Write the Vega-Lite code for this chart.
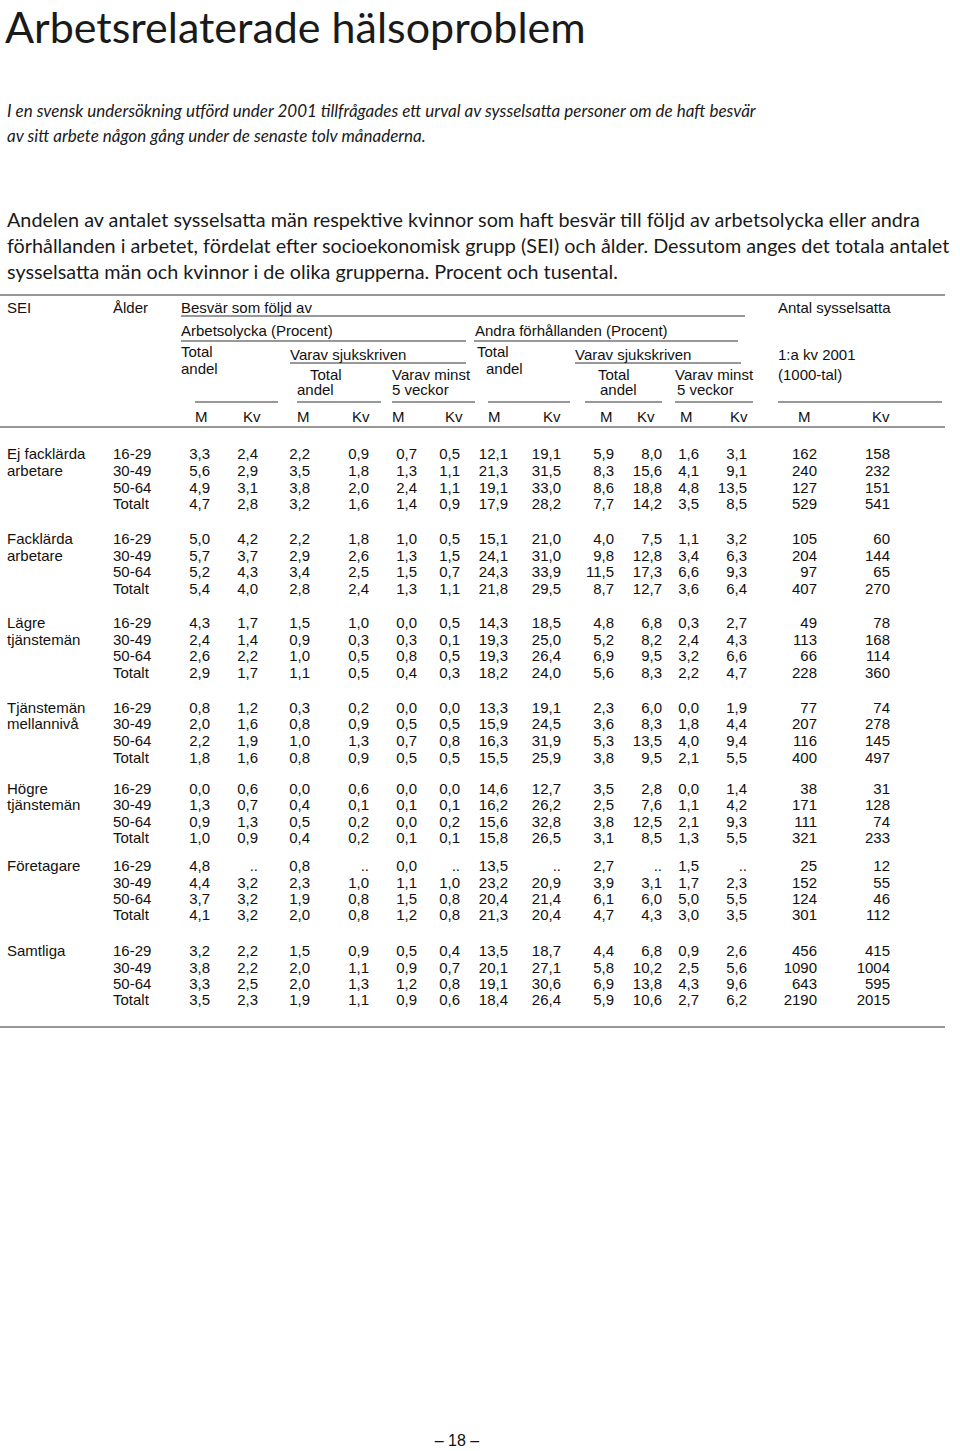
{
  "$schema": "https://vega.github.io/schema/vega-lite/v6.json",
  "width": 960,
  "height": 1451,
  "autosize": "none",
  "padding": 0,
  "background": "#ffffff",
  "config": {
    "view": {"stroke": null},
    "locale": {"number": {"decimal": ",", "thousands": " ", "grouping": [3], "currency": ["", " kr"]}}
  },
  "datasets": {
    "xs": [
      {"c":"L","xi":0},{"c":"R","xi":1},{"c":"tx","xi":2},{"c":"sei","xi":3},{"c":"age","xi":4},
      {"c":"hA","xi":5},{"c":"hAs","xi":6},{"c":"hAsT","xi":7},{"c":"hAsA","xi":8},{"c":"hA5","xi":9},
      {"c":"hO","xi":10},{"c":"hOT","xi":11},{"c":"hOA","xi":12},{"c":"hOs","xi":13},{"c":"hOsT","xi":14},
      {"c":"hOsA","xi":15},{"c":"hO5","xi":16},{"c":"hO5b","xi":17},{"c":"hN","xi":18},
      {"c":"m1","xi":19},{"c":"k1","xi":20},{"c":"m2","xi":21},{"c":"k2","xi":22},{"c":"m3","xi":23},
      {"c":"k3","xi":24},{"c":"m4","xi":25},{"c":"k4","xi":26},{"c":"m5","xi":27},{"c":"k5","xi":28},
      {"c":"m6","xi":29},{"c":"k6","xi":30},{"c":"m7","xi":31},{"c":"k7","xi":32},
      {"c":"aM","xi":33},{"c":"aKv","xi":34},{"c":"asM","xi":35},{"c":"asKv","xi":36},{"c":"a5M","xi":37},
      {"c":"a5Kv","xi":38},{"c":"oM","xi":39},{"c":"oKv","xi":40},{"c":"osM","xi":41},{"c":"osKv","xi":42},
      {"c":"o5M","xi":43},{"c":"o5Kv","xi":44},{"c":"nM","xi":45},{"c":"nKv","xi":46},
      {"c":"bEnd","xi":47},{"c":"aEnd","xi":48},{"c":"oS","xi":49},{"c":"oE","xi":50},{"c":"osE","xi":51},
      {"c":"s1b","xi":52},{"c":"s2b","xi":53},{"c":"s4b","xi":54},{"c":"s5a","xi":55},{"c":"s6b","xi":56},
      {"c":"s7b","xi":57},{"c":"pg","xi":58}
    ],
    "ys": [
      {"r":"T","yi":0},{"r":"S1","yi":1},{"r":"S2","yi":2},{"r":"P1","yi":3},{"r":"P2","yi":4},{"r":"P3","yi":5},
      {"r":"R0","yi":6},{"r":"H1","yi":7},{"r":"R1","yi":8},{"r":"H2","yi":9},{"r":"R2","yi":10},
      {"r":"H3","yi":11},{"r":"H3b","yi":12},{"r":"R3","yi":13},{"r":"H4","yi":14},{"r":"H5","yi":15},
      {"r":"H6","yi":16},{"r":"R4","yi":17},{"r":"H7","yi":18},{"r":"R5","yi":19},
      {"r":"g1a","yi":20},{"r":"g1b","yi":21},{"r":"g1c","yi":22},{"r":"g1d","yi":23},
      {"r":"g2a","yi":24},{"r":"g2b","yi":25},{"r":"g2c","yi":26},{"r":"g2d","yi":27},
      {"r":"g3a","yi":28},{"r":"g3b","yi":29},{"r":"g3c","yi":30},{"r":"g3d","yi":31},
      {"r":"g4a","yi":32},{"r":"g4b","yi":33},{"r":"g4c","yi":34},{"r":"g4d","yi":35},
      {"r":"g5a","yi":36},{"r":"g5b","yi":37},{"r":"g5c","yi":38},{"r":"g5d","yi":39},
      {"r":"g6a","yi":40},{"r":"g6b","yi":41},{"r":"g6c","yi":42},{"r":"g6d","yi":43},
      {"r":"g7a","yi":44},{"r":"g7b","yi":45},{"r":"g7c","yi":46},{"r":"g7d","yi":47},
      {"r":"R6","yi":48},{"r":"PG","yi":49}
    ],
    "tbl": [
      {"r":"g1a","age":"16-29","aM":3.3,"aKv":2.4,"asM":2.2,"asKv":0.9,"a5M":0.7,"a5Kv":0.5,"oM":12.1,"oKv":19.1,"osM":5.9,"osKv":8.0,"o5M":1.6,"o5Kv":3.1,"nM":162,"nKv":158},
      {"r":"g1b","age":"30-49","aM":5.6,"aKv":2.9,"asM":3.5,"asKv":1.8,"a5M":1.3,"a5Kv":1.1,"oM":21.3,"oKv":31.5,"osM":8.3,"osKv":15.6,"o5M":4.1,"o5Kv":9.1,"nM":240,"nKv":232},
      {"r":"g1c","age":"50-64","aM":4.9,"aKv":3.1,"asM":3.8,"asKv":2.0,"a5M":2.4,"a5Kv":1.1,"oM":19.1,"oKv":33.0,"osM":8.6,"osKv":18.8,"o5M":4.8,"o5Kv":13.5,"nM":127,"nKv":151},
      {"r":"g1d","age":"Totalt","aM":4.7,"aKv":2.8,"asM":3.2,"asKv":1.6,"a5M":1.4,"a5Kv":0.9,"oM":17.9,"oKv":28.2,"osM":7.7,"osKv":14.2,"o5M":3.5,"o5Kv":8.5,"nM":529,"nKv":541},
      {"r":"g2a","age":"16-29","aM":5.0,"aKv":4.2,"asM":2.2,"asKv":1.8,"a5M":1.0,"a5Kv":0.5,"oM":15.1,"oKv":21.0,"osM":4.0,"osKv":7.5,"o5M":1.1,"o5Kv":3.2,"nM":105,"nKv":60},
      {"r":"g2b","age":"30-49","aM":5.7,"aKv":3.7,"asM":2.9,"asKv":2.6,"a5M":1.3,"a5Kv":1.5,"oM":24.1,"oKv":31.0,"osM":9.8,"osKv":12.8,"o5M":3.4,"o5Kv":6.3,"nM":204,"nKv":144},
      {"r":"g2c","age":"50-64","aM":5.2,"aKv":4.3,"asM":3.4,"asKv":2.5,"a5M":1.5,"a5Kv":0.7,"oM":24.3,"oKv":33.9,"osM":11.5,"osKv":17.3,"o5M":6.6,"o5Kv":9.3,"nM":97,"nKv":65},
      {"r":"g2d","age":"Totalt","aM":5.4,"aKv":4.0,"asM":2.8,"asKv":2.4,"a5M":1.3,"a5Kv":1.1,"oM":21.8,"oKv":29.5,"osM":8.7,"osKv":12.7,"o5M":3.6,"o5Kv":6.4,"nM":407,"nKv":270},
      {"r":"g3a","age":"16-29","aM":4.3,"aKv":1.7,"asM":1.5,"asKv":1.0,"a5M":0.0,"a5Kv":0.5,"oM":14.3,"oKv":18.5,"osM":4.8,"osKv":6.8,"o5M":0.3,"o5Kv":2.7,"nM":49,"nKv":78},
      {"r":"g3b","age":"30-49","aM":2.4,"aKv":1.4,"asM":0.9,"asKv":0.3,"a5M":0.3,"a5Kv":0.1,"oM":19.3,"oKv":25.0,"osM":5.2,"osKv":8.2,"o5M":2.4,"o5Kv":4.3,"nM":113,"nKv":168},
      {"r":"g3c","age":"50-64","aM":2.6,"aKv":2.2,"asM":1.0,"asKv":0.5,"a5M":0.8,"a5Kv":0.5,"oM":19.3,"oKv":26.4,"osM":6.9,"osKv":9.5,"o5M":3.2,"o5Kv":6.6,"nM":66,"nKv":114},
      {"r":"g3d","age":"Totalt","aM":2.9,"aKv":1.7,"asM":1.1,"asKv":0.5,"a5M":0.4,"a5Kv":0.3,"oM":18.2,"oKv":24.0,"osM":5.6,"osKv":8.3,"o5M":2.2,"o5Kv":4.7,"nM":228,"nKv":360},
      {"r":"g4a","age":"16-29","aM":0.8,"aKv":1.2,"asM":0.3,"asKv":0.2,"a5M":0.0,"a5Kv":0.0,"oM":13.3,"oKv":19.1,"osM":2.3,"osKv":6.0,"o5M":0.0,"o5Kv":1.9,"nM":77,"nKv":74},
      {"r":"g4b","age":"30-49","aM":2.0,"aKv":1.6,"asM":0.8,"asKv":0.9,"a5M":0.5,"a5Kv":0.5,"oM":15.9,"oKv":24.5,"osM":3.6,"osKv":8.3,"o5M":1.8,"o5Kv":4.4,"nM":207,"nKv":278},
      {"r":"g4c","age":"50-64","aM":2.2,"aKv":1.9,"asM":1.0,"asKv":1.3,"a5M":0.7,"a5Kv":0.8,"oM":16.3,"oKv":31.9,"osM":5.3,"osKv":13.5,"o5M":4.0,"o5Kv":9.4,"nM":116,"nKv":145},
      {"r":"g4d","age":"Totalt","aM":1.8,"aKv":1.6,"asM":0.8,"asKv":0.9,"a5M":0.5,"a5Kv":0.5,"oM":15.5,"oKv":25.9,"osM":3.8,"osKv":9.5,"o5M":2.1,"o5Kv":5.5,"nM":400,"nKv":497},
      {"r":"g5a","age":"16-29","aM":0.0,"aKv":0.6,"asM":0.0,"asKv":0.6,"a5M":0.0,"a5Kv":0.0,"oM":14.6,"oKv":12.7,"osM":3.5,"osKv":2.8,"o5M":0.0,"o5Kv":1.4,"nM":38,"nKv":31},
      {"r":"g5b","age":"30-49","aM":1.3,"aKv":0.7,"asM":0.4,"asKv":0.1,"a5M":0.1,"a5Kv":0.1,"oM":16.2,"oKv":26.2,"osM":2.5,"osKv":7.6,"o5M":1.1,"o5Kv":4.2,"nM":171,"nKv":128},
      {"r":"g5c","age":"50-64","aM":0.9,"aKv":1.3,"asM":0.5,"asKv":0.2,"a5M":0.0,"a5Kv":0.2,"oM":15.6,"oKv":32.8,"osM":3.8,"osKv":12.5,"o5M":2.1,"o5Kv":9.3,"nM":111,"nKv":74},
      {"r":"g5d","age":"Totalt","aM":1.0,"aKv":0.9,"asM":0.4,"asKv":0.2,"a5M":0.1,"a5Kv":0.1,"oM":15.8,"oKv":26.5,"osM":3.1,"osKv":8.5,"o5M":1.3,"o5Kv":5.5,"nM":321,"nKv":233},
      {"r":"g6a","age":"16-29","aM":4.8,"aKv":null,"asM":0.8,"asKv":null,"a5M":0.0,"a5Kv":null,"oM":13.5,"oKv":null,"osM":2.7,"osKv":null,"o5M":1.5,"o5Kv":null,"nM":25,"nKv":12},
      {"r":"g6b","age":"30-49","aM":4.4,"aKv":3.2,"asM":2.3,"asKv":1.0,"a5M":1.1,"a5Kv":1.0,"oM":23.2,"oKv":20.9,"osM":3.9,"osKv":3.1,"o5M":1.7,"o5Kv":2.3,"nM":152,"nKv":55},
      {"r":"g6c","age":"50-64","aM":3.7,"aKv":3.2,"asM":1.9,"asKv":0.8,"a5M":1.5,"a5Kv":0.8,"oM":20.4,"oKv":21.4,"osM":6.1,"osKv":6.0,"o5M":5.0,"o5Kv":5.5,"nM":124,"nKv":46},
      {"r":"g6d","age":"Totalt","aM":4.1,"aKv":3.2,"asM":2.0,"asKv":0.8,"a5M":1.2,"a5Kv":0.8,"oM":21.3,"oKv":20.4,"osM":4.7,"osKv":4.3,"o5M":3.0,"o5Kv":3.5,"nM":301,"nKv":112},
      {"r":"g7a","age":"16-29","aM":3.2,"aKv":2.2,"asM":1.5,"asKv":0.9,"a5M":0.5,"a5Kv":0.4,"oM":13.5,"oKv":18.7,"osM":4.4,"osKv":6.8,"o5M":0.9,"o5Kv":2.6,"nM":456,"nKv":415},
      {"r":"g7b","age":"30-49","aM":3.8,"aKv":2.2,"asM":2.0,"asKv":1.1,"a5M":0.9,"a5Kv":0.7,"oM":20.1,"oKv":27.1,"osM":5.8,"osKv":10.2,"o5M":2.5,"o5Kv":5.6,"nM":1090,"nKv":1004},
      {"r":"g7c","age":"50-64","aM":3.3,"aKv":2.5,"asM":2.0,"asKv":1.3,"a5M":1.2,"a5Kv":0.8,"oM":19.1,"oKv":30.6,"osM":6.9,"osKv":13.8,"o5M":4.3,"o5Kv":9.6,"nM":643,"nKv":595},
      {"r":"g7d","age":"Totalt","aM":3.5,"aKv":2.3,"asM":1.9,"asKv":1.1,"a5M":0.9,"a5Kv":0.6,"oM":18.4,"oKv":26.4,"osM":5.9,"osKv":10.6,"o5M":2.7,"o5Kv":6.2,"nM":2190,"nKv":2015}
    ],
    "sei": [
      {"c":"sei","r":"g1a","t":"Ej facklärda"},{"c":"sei","r":"g1b","t":"arbetare"},
      {"c":"sei","r":"g2a","t":"Facklärda"},{"c":"sei","r":"g2b","t":"arbetare"},
      {"c":"sei","r":"g3a","t":"Lägre"},{"c":"sei","r":"g3b","t":"tjänstemän"},
      {"c":"sei","r":"g4a","t":"Tjänstemän"},{"c":"sei","r":"g4b","t":"mellannivå"},
      {"c":"sei","r":"g5a","t":"Högre"},{"c":"sei","r":"g5b","t":"tjänstemän"},
      {"c":"sei","r":"g6a","t":"Företagare"},
      {"c":"sei","r":"g7a","t":"Samtliga"}
    ],
    "hdr": [
      {"c":"sei","r":"H1","t":"SEI"},
      {"c":"age","r":"H1","t":"Ålder"},
      {"c":"hA","r":"H1","t":"Besvär som följd av"},
      {"c":"hN","r":"H1","t":"Antal sysselsatta"},
      {"c":"hA","r":"H2","t":"Arbetsolycka (Procent)"},
      {"c":"hO","r":"H2","t":"Andra förhållanden (Procent)"},
      {"c":"hA","r":"H3","t":"Total"},
      {"c":"hA","r":"H4","t":"andel"},
      {"c":"hAs","r":"H3b","t":"Varav sjukskriven"},
      {"c":"hOT","r":"H3","t":"Total"},
      {"c":"hOA","r":"H4","t":"andel"},
      {"c":"hOs","r":"H3b","t":"Varav sjukskriven"},
      {"c":"hN","r":"H3b","t":"1:a kv 2001"},
      {"c":"hAsT","r":"H5","t":"Total"},
      {"c":"hAsA","r":"H6","t":"andel"},
      {"c":"hA5","r":"H5","t":"Varav minst"},
      {"c":"hA5","r":"H6","t":"5 veckor"},
      {"c":"hOsT","r":"H5","t":"Total"},
      {"c":"hOsA","r":"H6","t":"andel"},
      {"c":"hO5","r":"H5","t":"Varav minst"},
      {"c":"hO5b","r":"H6","t":"5 veckor"},
      {"c":"hN","r":"H5","t":"(1000-tal)"},
      {"c":"m1","r":"H7","t":"M"},{"c":"k1","r":"H7","t":"Kv"},
      {"c":"m2","r":"H7","t":"M"},{"c":"k2","r":"H7","t":"Kv"},
      {"c":"m3","r":"H7","t":"M"},{"c":"k3","r":"H7","t":"Kv"},
      {"c":"m4","r":"H7","t":"M"},{"c":"k4","r":"H7","t":"Kv"},
      {"c":"m5","r":"H7","t":"M"},{"c":"k5","r":"H7","t":"Kv"},
      {"c":"m6","r":"H7","t":"M"},{"c":"k6","r":"H7","t":"Kv"},
      {"c":"m7","r":"H7","t":"M"},{"c":"k7","r":"H7","t":"Kv"}
    ],
    "rules": [
      {"c":"L","c2":"R","r":"R0"},
      {"c":"hA","c2":"bEnd","r":"R1"},
      {"c":"hA","c2":"aEnd","r":"R2"},
      {"c":"oS","c2":"oE","r":"R2"},
      {"c":"hAs","c2":"aEnd","r":"R3"},
      {"c":"hOs","c2":"osE","r":"R3"},
      {"c":"m1","c2":"s1b","r":"R4"},
      {"c":"m2","c2":"s2b","r":"R4"},
      {"c":"m3","c2":"hO","r":"R4"},
      {"c":"m4","c2":"s4b","r":"R4"},
      {"c":"s5a","c2":"osKv","r":"R4"},
      {"c":"hO5","c2":"s6b","r":"R4"},
      {"c":"hN","c2":"s7b","r":"R4"},
      {"c":"L","c2":"R","r":"R5"},
      {"c":"L","c2":"R","r":"R6"}
    ]
  },
  "encoding": {
    "x": {"field": "xi", "type": "quantitative", "axis": null,
      "scale": {"nice": false, "zero": false,
        "domain": [0,1,2,3,4,5,6,7,8,9,10,11,12,13,14,15,16,17,18,19,20,21,22,23,24,25,26,27,28,29,30,31,32,33,34,35,36,37,38,39,40,41,42,43,44,45,46,47,48,49,50,51,52,53,54,55,56,57,58],
        "range": [0,945,5,7,113,181,290,310,297,392,475,477,486,575,598,600,675,677,778,195,243,297,352,392,445,488,543,600,637,680,730,798,872,210,258,310,369,417,460,508,561,614,662,699,747,817,890,745,466,474,738,741,278,381,570,585,753,942,457]}},
    "y": {"field": "yi", "type": "quantitative", "axis": null,
      "scale": {"nice": false, "zero": false,
        "domain": [0,1,2,3,4,5,6,7,8,9,10,11,12,13,14,15,16,17,18,19,20,21,22,23,24,25,26,27,28,29,30,31,32,33,34,35,36,37,38,39,40,41,42,43,44,45,46,47,48,49],
        "range": [43,112,137,221,247,273,295,308,316,331,341,352,355,363,369,375,390,402,417,427,454,471,488,504,539,556,572,589,623,640,656,673,708,724,741,758,789,805,822,838,866,883,899,915,951,968,984,1000,1027,1441]}}
  },
  "layer": [
    {
      "data": {"values": [{"c": "tx", "r": "T", "t": "Arbetsrelaterade hälsoproblem"}]},
      "transform": [
        {"lookup": "c", "from": {"data": {"name": "xs"}, "key": "c", "fields": ["xi"]}},
        {"lookup": "r", "from": {"data": {"name": "ys"}, "key": "r", "fields": ["yi"]}}
      ],
      "mark": {"type": "text", "align": "left", "baseline": "alphabetic", "font": "Lato", "fontSize": 43, "fill": "#1a1a1a"},
      "encoding": {"text": {"field": "t"}}
    },
    {
      "data": {"values": [
        {"c": "sei", "r": "S1", "t": "I en svensk undersökning utförd under 2001 tillfrågades ett urval av sysselsatta personer om de haft besvär"},
        {"c": "sei", "r": "S2", "t": "av sitt arbete någon gång under de senaste tolv månaderna."}
      ]},
      "transform": [
        {"lookup": "c", "from": {"data": {"name": "xs"}, "key": "c", "fields": ["xi"]}},
        {"lookup": "r", "from": {"data": {"name": "ys"}, "key": "r", "fields": ["yi"]}}
      ],
      "mark": {"type": "text", "align": "left", "baseline": "middle", "font": "Lato", "fontStyle": "italic", "fontSize": 17, "fill": "#1a1a1a"},
      "encoding": {"text": {"field": "t"}}
    },
    {
      "data": {"values": [
        {"c": "sei", "r": "P1", "t": "Andelen av antalet sysselsatta män respektive kvinnor som haft besvär till följd av arbetsolycka eller andra"},
        {"c": "sei", "r": "P2", "t": "förhållanden i arbetet, fördelat efter socioekonomisk grupp (SEI) och ålder. Dessutom anges det totala antalet"},
        {"c": "sei", "r": "P3", "t": "sysselsatta män och kvinnor i de olika grupperna. Procent och tusental."}
      ]},
      "transform": [
        {"lookup": "c", "from": {"data": {"name": "xs"}, "key": "c", "fields": ["xi"]}},
        {"lookup": "r", "from": {"data": {"name": "ys"}, "key": "r", "fields": ["yi"]}}
      ],
      "mark": {"type": "text", "align": "left", "baseline": "middle", "font": "Lato", "fontSize": 19.8, "fill": "#1a1a1a"},
      "encoding": {"text": {"field": "t"}}
    },
    {
      "data": {"name": "rules"},
      "transform": [
        {"lookup": "c2", "from": {"data": {"name": "xs"}, "key": "c", "fields": ["xi"]}, "as": ["xi2"]},
        {"lookup": "c", "from": {"data": {"name": "xs"}, "key": "c", "fields": ["xi"]}},
        {"lookup": "r", "from": {"data": {"name": "ys"}, "key": "r", "fields": ["yi"]}}
      ],
      "mark": {"type": "rule", "stroke": "#333333", "strokeWidth": 1.2},
      "encoding": {"x2": {"field": "xi2"}}
    },
    {
      "data": {"name": "hdr"},
      "transform": [
        {"lookup": "c", "from": {"data": {"name": "xs"}, "key": "c", "fields": ["xi"]}},
        {"lookup": "r", "from": {"data": {"name": "ys"}, "key": "r", "fields": ["yi"]}}
      ],
      "mark": {"type": "text", "align": "left", "baseline": "middle", "font": "Liberation Sans", "fontSize": 15, "fill": "#111111"},
      "encoding": {"text": {"field": "t"}}
    },
    {
      "data": {"name": "sei"},
      "transform": [
        {"lookup": "c", "from": {"data": {"name": "xs"}, "key": "c", "fields": ["xi"]}},
        {"lookup": "r", "from": {"data": {"name": "ys"}, "key": "r", "fields": ["yi"]}}
      ],
      "mark": {"type": "text", "align": "left", "baseline": "middle", "font": "Liberation Sans", "fontSize": 15, "fill": "#111111"},
      "encoding": {"text": {"field": "t"}}
    },
    {
      "data": {"name": "tbl"},
      "transform": [
        {"fold": ["age"], "as": ["c", "v"]},
        {"lookup": "c", "from": {"data": {"name": "xs"}, "key": "c", "fields": ["xi"]}},
        {"lookup": "r", "from": {"data": {"name": "ys"}, "key": "r", "fields": ["yi"]}}
      ],
      "mark": {"type": "text", "align": "left", "baseline": "middle", "font": "Liberation Sans", "fontSize": 15, "fill": "#111111"},
      "encoding": {"text": {"field": "v", "type": "nominal"}}
    },
    {
      "data": {"name": "tbl"},
      "transform": [
        {"fold": ["aM","aKv","asM","asKv","a5M","a5Kv","oM","oKv","osM","osKv","o5M","o5Kv"], "as": ["c", "v"]},
        {"filter": "datum.v != null"},
        {"lookup": "c", "from": {"data": {"name": "xs"}, "key": "c", "fields": ["xi"]}},
        {"lookup": "r", "from": {"data": {"name": "ys"}, "key": "r", "fields": ["yi"]}}
      ],
      "mark": {"type": "text", "align": "right", "baseline": "middle", "font": "Liberation Sans", "fontSize": 15, "fill": "#111111"},
      "encoding": {"text": {"field": "v", "type": "quantitative", "format": ".1f"}}
    },
    {
      "data": {"name": "tbl"},
      "transform": [
        {"fold": ["aM","aKv","asM","asKv","a5M","a5Kv","oM","oKv","osM","osKv","o5M","o5Kv"], "as": ["c", "v"]},
        {"filter": "datum.v == null"},
        {"lookup": "c", "from": {"data": {"name": "xs"}, "key": "c", "fields": ["xi"]}},
        {"lookup": "r", "from": {"data": {"name": "ys"}, "key": "r", "fields": ["yi"]}}
      ],
      "mark": {"type": "text", "align": "right", "baseline": "middle", "font": "Liberation Sans", "fontSize": 15, "fill": "#111111", "text": ".."}
    },
    {
      "data": {"name": "tbl"},
      "transform": [
        {"fold": ["nM","nKv"], "as": ["c", "v"]},
        {"lookup": "c", "from": {"data": {"name": "xs"}, "key": "c", "fields": ["xi"]}},
        {"lookup": "r", "from": {"data": {"name": "ys"}, "key": "r", "fields": ["yi"]}}
      ],
      "mark": {"type": "text", "align": "right", "baseline": "middle", "font": "Liberation Sans", "fontSize": 15, "fill": "#111111"},
      "encoding": {"text": {"field": "v", "type": "quantitative", "format": "d"}}
    },
    {
      "data": {"values": [{"c": "pg", "r": "PG", "t": "– 18 –"}]},
      "transform": [
        {"lookup": "c", "from": {"data": {"name": "xs"}, "key": "c", "fields": ["xi"]}},
        {"lookup": "r", "from": {"data": {"name": "ys"}, "key": "r", "fields": ["yi"]}}
      ],
      "mark": {"type": "text", "align": "center", "baseline": "middle", "font": "Liberation Sans", "fontSize": 16, "fill": "#111111"},
      "encoding": {"text": {"field": "t"}}
    }
  ]
}
